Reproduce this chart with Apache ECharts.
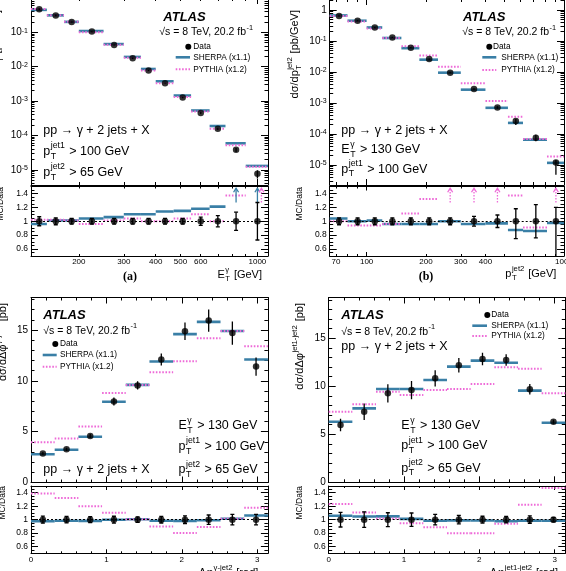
<!DOCTYPE html>
<html>
<head>
<meta charset="utf-8">
<script src="https://cdn.jsdelivr.net/npm/echarts@6/dist/echarts.min.js"></script>
<style>
html, body { margin: 0; padding: 0; background: #fff; }
#chart { width: 566px; height: 571px; }
</style>
</head>
<body>
<div id="chart"></div>
<script>
// ---------- data ----------
// (a) photon E_T
const etEdges = [130, 150, 175, 200, 250, 300, 350, 400, 470, 550, 650, 750, 900, 1100];
const etData = [0.47, 0.31, 0.20, 0.105, 0.043, 0.0175, 0.0078, 0.0033, 0.00126, 4.5e-4, 1.55e-4, 3.8e-5, 7.6e-6];
const etRelErr = [0.065, 0.05, 0.04, 0.04, 0.04, 0.04, 0.04, 0.04, 0.04, 0.06, 0.08, 0.13, 0.27];
const etSherpaRatio = [0.96, 1.01, 1.01, 1.04, 1.06, 1.10, 1.10, 1.14, 1.15, 1.18, 1.21, 1.55, 1.70];
const etPythiaRatio = [1.02, 1.02, 1.01, 0.96, 1.01, 1.04, 1.00, 1.00, 1.04, 1.10, 1.00, 1.37, 1.60];

// (b) sub-leading jet pT
const ptEdges = [65, 80, 100, 120, 150, 185, 230, 300, 400, 520, 620, 820, 1000];
const ptData = [0.64, 0.45, 0.27, 0.13, 0.061, 0.026, 0.0095, 0.0028, 7.2e-4, 2.6e-4, 7.6e-5, 1.2e-5];
const ptRelErrUp = [0.05, 0.05, 0.05, 0.05, 0.05, 0.05, 0.05, 0.07, 0.09, 0.18, 0.24, 0.20];
const ptRelErrDn = [0.05, 0.05, 0.05, 0.05, 0.05, 0.05, 0.05, 0.07, 0.09, 0.25, 0.24, 0.60];
const ptSherpaRatio = [1.04, 1.00, 1.01, 0.96, 0.96, 0.96, 1.00, 0.96, 0.97, 0.875, 0.86, 0.975];
const ptPythiaRatio = [1.00, 0.94, 0.94, 0.96, 1.11, 1.32, 1.56, 1.55, 1.60, 1.37, 0.91, 1.55];

// (c) delta phi photon - jet2, (d) delta phi jet1 - jet2  (10 bins of pi/10)
const dphiEdges = [0, 0.3142, 0.6283, 0.9425, 1.2566, 1.5708, 1.8850, 2.1991, 2.5133, 2.8274, 3.1416];
const gjData = [2.85, 3.27, 4.58, 7.97, 9.55, 12.1, 14.88, 15.93, 14.7, 11.4];
const gjErr = [0.15, 0.16, 0.2, 0.4, 0.4, 0.6, 0.85, 1.1, 1.15, 0.9];
const gjSherpa = [2.78, 3.22, 4.5, 7.95, 9.6, 11.9, 14.6, 15.8, 14.9, 12.1];
const gjPythia = [3.96, 4.32, 5.5, 8.8, 9.6, 10.85, 11.92, 14.2, 14.9, 13.4];

const jjData = [5.97, 7.35, 9.27, 9.61, 10.83, 12.19, 12.84, 12.74, 9.69, 6.31];
const jjErr = [0.65, 0.85, 0.95, 0.95, 0.85, 0.75, 0.65, 0.6, 0.55, 0.2];
const jjSherpa = [6.31, 7.7, 9.72, 9.72, 10.65, 12.05, 12.67, 12.45, 9.55, 6.21];
const jjPythia = [7.35, 8.12, 9.44, 9.09, 9.61, 9.72, 10.24, 11.98, 11.84, 9.27];

// tick labels
const etTickLabels = [200, 300, 400, 500, 600, 1000];
const ptTickLabels = [70, 100, 200, 300, 400, 1000];
const powLabelsA = [1e-5, 1e-4, 1e-3, 1e-2, 1e-1];
const powLabelsB = [1e-5, 1e-4, 1e-3, 1e-2, 1e-1, 1];
const dphiTickLabels = [0, 1, 2, 3];
const xsecTickLabels = [0, 5, 10, 15];
const ratioTickLabels = [0.6, 0.8, 1, 1.2, 1.4];

// ---------- style ----------
const SHERPA = '#3a7fa6';
const PYTHIA = '#ee6ad8';
const FONT = '"Liberation Sans", Arial, sans-serif';

const ctx2d = document.createElement('canvas').getContext('2d');
function fontStr(size, weight, fstyle) {
  return (fstyle || 'normal') + ' ' + (weight || 'normal') + ' ' + size + 'px ' + FONT;
}
function textWidth(s, size, weight, fstyle) {
  ctx2d.font = fontStr(size, weight, fstyle);
  return ctx2d.measureText(s).width;
}
function txt(x, y, s, size, weight, fstyle, align) {
  return {
    type: 'text', x: x, y: y,
    style: {
      text: s, font: fontStr(size, weight, fstyle), fill: '#000',
      align: align || 'left', verticalAlign: 'middle',
      textAlign: align || 'left', textVerticalAlign: 'middle'
    }
  };
}
// text with stacked super/subscripts, like ROOT's p_{T}^{jet1}
function mathText(x, y, tokens, size, opts) {
  opts = opts || {};
  const kids = [];
  let cx = 0;
  const ss = size * 0.7;
  tokens.forEach(tk => {
    if (typeof tk === 'string') {
      kids.push(txt(cx, 0, tk, size, opts.weight, opts.fstyle));
      cx += textWidth(tk, size, opts.weight, opts.fstyle);
    } else {
      let w = 0;
      if (tk.sup) { kids.push(txt(cx + 0.5, -size * 0.45, tk.sup, ss)); w = Math.max(w, textWidth(tk.sup, ss)); }
      if (tk.sub) { kids.push(txt(cx + 0.5, size * 0.38, tk.sub, ss)); w = Math.max(w, textWidth(tk.sub, ss)); }
      cx += w + size * 0.12;
    }
  });
  if (opts.anchor === 'end') kids.forEach(k => { k.x -= cx; });
  return { type: 'group', x: x, y: y, rotation: opts.rotate ? Math.PI / 2 : 0, children: kids };
}

// ---------- tick helpers ----------
function logMajors(lo, hi) {
  const out = [];
  for (let n = -7; n <= 3; n++) { const v = Math.pow(10, n); if (v >= lo && v <= hi) out.push(v); }
  return out;
}
function logMinors(lo, hi) {
  const out = [];
  for (let n = -7; n <= 3; n++) for (let k = 2; k <= 9; k++) {
    const v = k * Math.pow(10, n);
    if (v > lo && v < hi) out.push(v);
  }
  return out;
}
function steps(lo, hi, st) {
  const out = [];
  for (let v = lo; v <= hi + 1e-9; v += st) out.push(+v.toFixed(6));
  return out;
}
function powLabel(v) {
  const e = Math.round(Math.log10(v));
  return e === 0 ? '{b|1}' : '{b|10}{s|' + e + '}';
}
const powRich = {
  b: { fontSize: 10, fontFamily: FONT, color: '#000', lineHeight: 10, padding: [4, 0, 4, 0], verticalAlign: 'middle' },
  s: { fontSize: 7, fontFamily: FONT, color: '#000', lineHeight: 8, verticalAlign: 'top' }
};

// ---------- grids ----------
const grids = [
  { left: 31, top: -2, width: 237, height: 187 },        // a main
  { left: 31, top: 186.5, width: 237, height: 69.5 },    // a ratio
  { left: 329.7, top: -1, width: 234.3, height: 186 },   // b main
  { left: 329.7, top: 186.5, width: 234.3, height: 69.5 },
  { left: 31, top: 297.5, width: 236.9, height: 185 },   // c main
  { left: 31, top: 486, width: 236.9, height: 67.3 },
  { left: 328.7, top: 297.5, width: 236.6, height: 184.8 }, // d main
  { left: 328.7, top: 486, width: 236.6, height: 67.3 }
].map(g => Object.assign({ containLabel: false, outerBoundsMode: 'none' }, g));

const xAxis = [], yAxis = [], series = [];

// one axis with labels + mirrored axis, each with a companion for short minor ticks
function frameAxes(list, gi, sides, o) {
  const first = list.length;
  sides.forEach((side, k) => {
    const common = {
      gridIndex: gi, type: o.type, min: o.min, max: o.max, position: side,
      splitLine: { show: false }, silent: true
    };
    if (o.type === 'log') common.logBase = 10;
    list.push(Object.assign({}, common, {
      axisLine: { show: true, onZero: false, lineStyle: { color: '#000', width: 1 } },
      axisTick: { show: true, inside: true, length: o.tickLen, customValues: o.major, lineStyle: { color: '#000', width: 1 } },
      axisLabel: (k === 0 && o.labels) ? {
        show: true, customValues: o.labels, formatter: o.fmt, fontSize: o.labelSize,
        fontFamily: FONT, color: '#000', margin: o.margin, rich: o.rich, hideOverlap: false
      } : { show: false }
    }));
    list.push(Object.assign({}, common, {
      axisLine: { show: false, onZero: false },
      axisTick: { show: true, inside: true, length: o.minorLen, customValues: o.minor, lineStyle: { color: '#000', width: 1 } },
      axisLabel: { show: false }
    }));
  });
  return first;
}

function segs(xi, yi, edges, vals, color, dotted, keep) {
  const data = [];
  vals.forEach((v, i) => { if (!keep || keep(v)) data.push([edges[i], v, edges[i + 1]]); });
  return {
    type: 'custom', xAxisIndex: xi, yAxisIndex: yi, clip: true, silent: true, z: 3,
    encode: { x: [0, 2], y: 1 }, data: data,
    renderItem: (p, api) => {
      const a = api.coord([api.value(0), api.value(1)]);
      const b = api.coord([api.value(2), api.value(1)]);
      return {
        type: 'line', shape: { x1: a[0], y1: a[1], x2: b[0], y2: a[1] },
        style: { stroke: color, lineWidth: dotted ? 2 : 2.6, lineDash: dotted ? [1.6, 1.6] : null, fill: null }
      };
    }
  };
}
function errBars(xi, yi, xs, lows, highs, cap) {
  return {
    type: 'custom', xAxisIndex: xi, yAxisIndex: yi, clip: true, silent: true, z: 5,
    encode: { x: 0, y: [1, 2] }, data: xs.map((x, i) => [x, lows[i], highs[i]]),
    renderItem: (p, api) => {
      const t = api.coord([api.value(0), api.value(2)]);
      const b = api.coord([api.value(0), api.value(1)]);
      const st = { stroke: '#000', lineWidth: 1.3 };
      const kids = [{ type: 'line', shape: { x1: t[0], y1: t[1], x2: t[0], y2: b[1] }, style: st }];
      if (cap) {
        kids.push({ type: 'line', shape: { x1: t[0] - cap, y1: t[1], x2: t[0] + cap, y2: t[1] }, style: st });
        kids.push({ type: 'line', shape: { x1: b[0] - cap, y1: b[1], x2: b[0] + cap, y2: b[1] }, style: st });
      }
      return { type: 'group', children: kids };
    }
  };
}
function arrows(xi, yi, pts, color, dotted) {
  return {
    type: 'custom', xAxisIndex: xi, yAxisIndex: yi, silent: true, z: 4,
    encode: { x: 0, y: 1 }, data: pts,
    renderItem: (p, api) => {
      const top = api.coord([api.value(0), 1.475]);
      const bot = api.coord([api.value(0), 1.27]);
      const x = top[0] + api.value(2);
      const st = { stroke: color, lineWidth: 1.3, fill: null };
      return {
        type: 'group', children: [
          { type: 'line', shape: { x1: x, y1: bot[1], x2: x, y2: top[1] }, style: Object.assign({ lineDash: dotted ? [1.5, 1.5] : null }, st) },
          { type: 'polyline', shape: { points: [[x - 2.5, top[1] + 4], [x, top[1]], [x + 2.5, top[1] + 4]] }, style: st }
        ]
      };
    }
  };
}
function dots(xi, yi, xs, ys, unityLine) {
  const s = {
    type: 'scatter', xAxisIndex: xi, yAxisIndex: yi, silent: true, z: 6,
    symbol: 'circle', symbolSize: 6.5, itemStyle: { color: '#000' },
    data: xs.map((x, i) => [x, ys[i]])
  };
  if (unityLine) {
    s.markLine = {
      silent: true, symbol: 'none', label: { show: false }, z: 4,
      lineStyle: { color: '#000', width: 1, type: [2, 2] },
      data: [{ yAxis: 1 }]
    };
  }
  return s;
}

const ratioY = {
  type: 'value', min: 0.5, max: 1.5, major: [0.6, 0.8, 1, 1.2, 1.4], minor: steps(0.5, 1.5, 0.05),
  labels: ratioTickLabels, fmt: v => String(Number(v.toFixed(1))), labelSize: 8.5, margin: 3,
  tickLen: 7, minorLen: 3.5
};

function panel(c) {
  const xm = frameAxes(xAxis, c.gMain, ['bottom', 'top'], Object.assign({}, c.x, { labels: null, tickLen: 6, minorLen: 3 }));
  const ym = frameAxes(yAxis, c.gMain, ['left', 'right'], c.y);
  const xr = frameAxes(xAxis, c.gMain + 1, ['bottom', 'top'], Object.assign({}, c.x, { tickLen: 4, minorLen: 2 }));
  const yr = frameAxes(yAxis, c.gMain + 1, ['left', 'right'], ratioY);
  const centers = c.edges.slice(0, -1).map((e, i) => (e + c.edges[i + 1]) / 2);
  const rS = c.sherpa.map((v, i) => v / c.data[i]);
  const rP = c.pythia.map((v, i) => v / c.data[i]);
  const inRange = r => r > ratioY.min && r < ratioY.max;
  const sArrows = [], pArrows = [];
  centers.forEach((x, i) => {
    if (rS[i] >= ratioY.max) sArrows.push([x, 1.4, 0]);
    if (rP[i] >= ratioY.max) pArrows.push([x, 1.4, rS[i] >= ratioY.max ? 4 : 0]);
  });
  series.push(
    segs(xm, ym, c.edges, c.sherpa, SHERPA, false),
    segs(xm, ym, c.edges, c.pythia, PYTHIA, true),
    errBars(xm, ym, centers, c.data.map((v, i) => v - c.errDn[i]), c.data.map((v, i) => v + c.errUp[i]), 0),
    dots(xm, ym, centers, c.data, false),
    segs(xr, yr, c.edges, rS, SHERPA, false, inRange),
    segs(xr, yr, c.edges, rP, PYTHIA, true, inRange),
    arrows(xr, yr, sArrows, SHERPA, false),
    arrows(xr, yr, pArrows, PYTHIA, true),
    errBars(xr, yr, centers, c.data.map((v, i) => 1 - c.errDn[i] / v), c.data.map((v, i) => 1 + c.errUp[i] / v), 2),
    dots(xr, yr, centers, centers.map(() => 1), true)
  );
}

const logX = (lo, hi, labels) => ({
  type: 'log', min: lo, max: hi, major: logMajors(lo, hi), minor: logMinors(lo, hi),
  labels: labels, fmt: v => String(Math.round(v)), labelSize: 8, margin: 2
});
const logY = (lo, hi, labels) => ({
  type: 'log', min: lo, max: hi, major: logMajors(lo, hi), minor: logMinors(lo, hi),
  labels: labels, fmt: powLabel, rich: powRich, margin: 3, tickLen: 7, minorLen: 3.5
});
const dphiX = {
  type: 'value', min: 0, max: Math.PI, major: [0, 1, 2, 3], minor: steps(0, 3.1, 0.2),
  labels: dphiTickLabels, fmt: v => String(v), labelSize: 8, margin: 2
};
const xsecY = max => ({
  type: 'value', min: 0, max: max, major: [0, 5, 10, 15], minor: steps(0, 19, 1),
  labels: xsecTickLabels, fmt: v => String(v), labelSize: 10, margin: 3, tickLen: 7, minorLen: 3.5
});

panel({
  gMain: 0, edges: etEdges, data: etData,
  errUp: etData.map((v, i) => v * etRelErr[i]), errDn: etData.map((v, i) => v * etRelErr[i]),
  sherpa: etData.map((v, i) => v * etSherpaRatio[i]), pythia: etData.map((v, i) => v * etPythiaRatio[i]),
  x: logX(130, 1100, etTickLabels), y: logY(3.6e-6, 1, powLabelsA)
});
panel({
  gMain: 2, edges: ptEdges, data: ptData,
  errUp: ptData.map((v, i) => v * ptRelErrUp[i]), errDn: ptData.map((v, i) => v * ptRelErrDn[i]),
  sherpa: ptData.map((v, i) => v * ptSherpaRatio[i]), pythia: ptData.map((v, i) => v * ptPythiaRatio[i]),
  x: logX(65, 1000, ptTickLabels), y: logY(2.26e-6, 2.26, powLabelsB)
});
panel({
  gMain: 4, edges: dphiEdges, data: gjData, errUp: gjErr, errDn: gjErr,
  sherpa: gjSherpa, pythia: gjPythia, x: dphiX, y: xsecY(18.2)
});
panel({
  gMain: 6, edges: dphiEdges, data: jjData, errUp: jjErr, errDn: jjErr,
  sherpa: jjSherpa, pythia: jjPythia, x: dphiX, y: xsecY(19.25)
});

// ---------- annotations ----------
function legendBox(dotX, dataX, lineX1, lineX2, textX, y0, y1, y2) {
  return [
    { type: 'circle', shape: { cx: dotX, cy: y0, r: 3 }, style: { fill: '#000' } },
    txt(dataX, y0, 'Data', 8.3),
    { type: 'line', shape: { x1: lineX1, y1: y1, x2: lineX2, y2: y1 }, style: { stroke: SHERPA, lineWidth: 2.6 } },
    txt(textX, y1, 'SHERPA (x1.1)', 8.3),
    { type: 'line', shape: { x1: lineX1, y1: y2, x2: lineX2, y2: y2 }, style: { stroke: PYTHIA, lineWidth: 2, lineDash: [1.6, 1.6] } },
    txt(textX, y2, 'PYTHIA (x1.2)', 8.3)
  ];
}
const sqrtS = ['√s = 8 TeV, 20.2 fb', { sup: '-1' }];
const proc = 'pp → γ + 2 jets + X';
const cutEt = ['E', { sup: 'γ', sub: 'T' }, ' > 130 GeV'];
const cutJ1 = ['p', { sup: 'jet1', sub: 'T' }, ' > 100 GeV'];
const cutJ2 = ['p', { sup: 'jet2', sub: 'T' }, ' > 65 GeV'];

const elements = [].concat(
  // (a)
  [txt(163.3, 17.5, 'ATLAS', 13, 'bold', 'italic'),
   mathText(159.3, 32.3, sqrtS, 10.5),
   txt(43.3, 131, proc, 12.5),
   mathText(43.3, 151.7, cutJ1, 12.5),
   mathText(43.3, 172.7, cutJ2, 12.5)],
  legendBox(188.3, 193.3, 175.7, 190, 193.3, 46.7, 57.3, 69.3),
  [mathText(-3, 10, ['dσ/dE', { sup: 'γ', sub: 'T' }, ' [pb/GeV]'], 11, { rotate: true, anchor: 'end' }),
   mathText(0.5, 187, ['MC/Data'], 8.5, { rotate: true, anchor: 'end' }),
   mathText(262, 275, ['E', { sup: 'γ', sub: 'T' }, ' [GeV]'], 11, { anchor: 'end' }),
   txt(130, 277, '(a)', 12, 'bold', 'normal', 'center')],
  // (b)
  [txt(463, 17.5, 'ATLAS', 13, 'bold', 'italic'),
   mathText(462.3, 32.3, sqrtS, 10.5),
   txt(341.3, 131, proc, 12.5),
   mathText(341.3, 150, cutEt, 12.5),
   mathText(341.3, 169.3, cutJ1, 12.5)],
  legendBox(489.3, 493, 482.3, 496.3, 501.3, 46.7, 57.3, 70),
  [mathText(295, 10, ['dσ/dp', { sup: 'jet2', sub: 'T' }, ' [pb/GeV]'], 11, { rotate: true, anchor: 'end' }),
   mathText(299.5, 187, ['MC/Data'], 8.5, { rotate: true, anchor: 'end' }),
   mathText(556.3, 274, ['p', { sup: 'jet2', sub: 'T' }, ' [GeV]'], 11, { anchor: 'end' }),
   txt(426, 277, '(b)', 12, 'bold', 'normal', 'center')],
  // (c)
  [txt(43.3, 315, 'ATLAS', 13, 'bold', 'italic'),
   mathText(43.3, 330.7, sqrtS, 10.5),
   mathText(178.5, 426, cutEt, 12.5),
   mathText(178.5, 446.7, cutJ1, 12.5),
   mathText(178.5, 470, cutJ2, 12.5),
   txt(43.3, 470, proc, 12.5)],
  legendBox(55.3, 60, 42.7, 56.7, 60, 344, 355, 366.7),
  [mathText(3, 303, ['dσ/dΔφ', { sup: 'γ-jet2' }, ' [pb]'], 11, { rotate: true, anchor: 'end' }),
   mathText(3, 486, ['MC/Data'], 8.5, { rotate: true, anchor: 'end' }),
   mathText(258.3, 573, ['Δφ', { sup: 'γ-jet2' }, ' [rad]'], 11, { anchor: 'end' })],
  // (d)
  [txt(341.3, 315, 'ATLAS', 13, 'bold', 'italic'),
   mathText(341.3, 331.7, sqrtS, 10.5),
   txt(341.3, 346.7, proc, 12.5),
   mathText(401.3, 426, cutEt, 12.5),
   mathText(401.3, 446, cutJ1, 12.5),
   mathText(401.3, 468.3, cutJ2, 12.5)],
  legendBox(487.3, 491.3, 472.3, 487, 491.3, 315, 325.7, 336),
  [mathText(299.5, 303, ['dσ/dΔφ', { sup: 'jet1-jet2' }, ' [pb]'], 11, { rotate: true, anchor: 'end' }),
   mathText(299.5, 486, ['MC/Data'], 8.5, { rotate: true, anchor: 'end' }),
   mathText(558, 573, ['Δφ', { sup: 'jet1-jet2' }, ' [rad]'], 11, { anchor: 'end' })]
);
// the serif panel tags
elements.forEach(e => {
  if (e.type === 'text' && /^\([ab]\)$/.test(e.style.text)) e.style.font = 'normal bold 12px "Liberation Serif", serif';
});

const chart = echarts.init(document.getElementById('chart'), null, { renderer: 'canvas' });
chart.setOption({
  animation: false,
  backgroundColor: '#fff',
  grid: grids,
  xAxis: xAxis,
  yAxis: yAxis,
  series: series,
  graphic: { elements: elements }
});
</script>
</body>
</html>
